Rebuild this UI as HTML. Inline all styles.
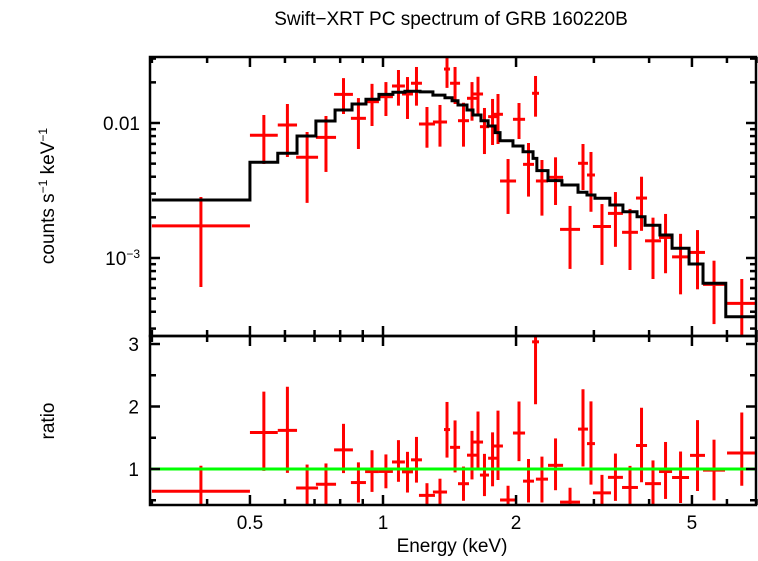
<!DOCTYPE html>
<html><head><meta charset="utf-8"><style>
html,body{margin:0;padding:0;background:#fff;}
svg text{font-family:"Liberation Sans",sans-serif;fill:#000;}
</style></head><body>
<svg id="chart" width="758" height="556" viewBox="0 0 758 556" xmlns="http://www.w3.org/2000/svg">
<text x="451" y="25" font-size="19" text-anchor="middle">Swift−XRT PC spectrum of GRB 160220B</text>
<text transform="translate(54,196) rotate(-90)" font-size="19" text-anchor="middle">counts s<tspan font-size="12" dy="-7">−1</tspan><tspan dy="7"> keV</tspan><tspan font-size="12" dy="-7">−1</tspan></text>
<text transform="translate(54,421) rotate(-90)" font-size="19" text-anchor="middle">ratio</text>
<text x="452" y="552" font-size="19" text-anchor="middle">Energy (keV)</text>
<g id="g"></g>
</svg>
<script>
// data bins (keV) and flux (counts/s/keV)
const binLo=[0.3,0.5,0.578,0.636,0.705,0.775,0.846,0.911,0.979,1.048,1.104,1.157,1.206,1.297,1.374,1.418,1.478,1.549,1.598,1.657,1.729,1.774,1.968,2.174,1.840,2.074,2.218,2.362,2.515,2.762,2.894,2.985,3.228,3.474,3.736,3.916,4.212,4.508,4.95,5.297,6.003];
const binHi=[0.5,0.578,0.639,0.713,0.783,0.855,0.915,0.979,1.053,1.121,1.169,1.225,1.311,1.396,1.418,1.494,1.565,1.632,1.684,1.737,1.811,1.868,2.096,2.254,2.0,2.196,2.362,2.555,2.791,2.909,3.017,3.28,3.49,3.774,3.957,4.255,4.508,4.925,5.352,5.94,7.0];
const flux=[0.00173,0.00811,0.00966,0.00557,0.00783,0.0163,0.01083,0.01438,0.01566,0.0188,0.0164,0.0197,0.00983,0.01017,0.0251,0.0197,0.0104,0.01524,0.0164,0.00939,0.01114,0.0116,0.01065,0.0166,0.00372,0.00494,0.00372,0.00396,0.00163,0.00503,0.00412,0.00171,0.00214,0.00155,0.00278,0.00134,0.00142,0.00102,0.0011,0.000638,0.000461];
const fluxHi=[0.00283,0.01146,0.01383,0.00858,0.01127,0.0215,0.0153,0.0195,0.0201,0.0247,0.0219,0.026,0.01314,0.0136,0.0319,0.026,0.01413,0.0201,0.022,0.01292,0.01507,0.0164,0.01406,0.0223,0.00541,0.00711,0.00532,0.00557,0.00243,0.00699,0.0061,0.00251,0.00308,0.00231,0.0040,0.00199,0.00212,0.00151,0.00161,0.000955,0.000699];
const fluxLo=[0.00061,0.00497,0.0056,0.00256,0.00434,0.01166,0.00642,0.0095,0.01127,0.01344,0.01071,0.01344,0.00656,0.00668,0.0182,0.01383,0.00668,0.0104,0.01146,0.00589,0.00687,0.00699,0.00761,0.01114,0.00212,0.00285,0.00206,0.00247,0.00083,0.00319,0.0022,0.000888,0.00121,0.000815,0.00159,0.000699,0.000771,0.000538,0.000586,0.000324,0.000269];
// model step function
const modelEdges=[0.3,0.5,0.578,0.639,0.705,0.779,0.851,0.915,0.979,1.053,1.121,1.213,1.297,1.381,1.433,1.478,1.549,1.598,1.666,1.729,1.793,1.840,1.968,2.074,2.185,2.229,2.362,2.540,2.762,2.894,3.017,3.260,3.490,3.756,3.916,4.232,4.508,4.925,5.297,5.964,7.0];
const modelVals=[0.00269,0.00512,0.00597,0.00801,0.01035,0.01248,0.01383,0.0150,0.0163,0.0169,0.01718,0.0170,0.0161,0.01539,0.01463,0.0136,0.01248,0.01146,0.0104,0.0095,0.00848,0.00739,0.00676,0.00613,0.00547,0.00444,0.00374,0.00347,0.00307,0.00293,0.00277,0.00247,0.0022,0.00202,0.00175,0.00148,0.00118,0.000903,0.00065,0.000367];
const xTicksMajor=[0.5,1,2,5];
const xTickLabels=["0.5","1","2","5"];
const ratioTicks=[1,2,3];
const ratioTickLabels=["1","2","3"];

const L=150,R=756,T1=57,B1=336,T2=336,B2=505;
const X=e=>383+442*Math.log10(e);
const Y1=f=>123-135*(Math.log10(f)+2);
const Y2=r=>469-62.5*(r-1);
const NS="http://www.w3.org/2000/svg";
const g=document.getElementById('g');
function mk(tag,at,parent){const el=document.createElementNS(NS,tag);for(const k in at)el.setAttribute(k,at[k]);(parent||g).appendChild(el);return el;}
function line(x1,y1,x2,y2,c,w,p){return mk('line',{x1,y1,x2,y2,stroke:c,'stroke-width':w},p);}
const defs=mk('defs',{});
const cp1=mk('clipPath',{id:'cp1'},defs);mk('rect',{x:L,y:T1,width:R-L,height:B1-T1},cp1);
const cp2=mk('clipPath',{id:'cp2'},defs);mk('rect',{x:L,y:T2,width:R-L,height:B2-T2},cp2);
const p1=mk('g',{'clip-path':'url(#cp1)'});
const p2=mk('g',{'clip-path':'url(#cp2)'});
function modelAt(e){for(let i=0;i<modelVals.length;i++){if(e>=modelEdges[i]&&e<modelEdges[i+1])return modelVals[i];}return modelVals[modelVals.length-1];}
for(let i=0;i<flux.length;i++){
  const ec=Math.sqrt(binLo[i]*binHi[i]);
  const gp=mk('g',{},p1);
  
  
  line(X(binLo[i]),Y1(flux[i]),X(binHi[i]),Y1(flux[i]),'#ff0000',3,gp);
  line(X(ec),Y1(fluxHi[i]),X(ec),Y1(fluxLo[i]),'#ff0000',3,gp);
  const m=modelAt(ec);
  const gr=mk('g',{},p2);
  
  
  line(X(binLo[i]),Y2(flux[i]/m),X(binHi[i]),Y2(flux[i]/m),'#ff0000',3,gr);
  line(X(ec),Y2(fluxHi[i]/m),X(ec),Y2(fluxLo[i]/m),'#ff0000',3,gr);
}
let d='';
for(let i=0;i<modelVals.length;i++){const y=Y1(modelVals[i]);d+=(i?'L':'M')+X(modelEdges[i])+','+y+'L'+X(modelEdges[i+1])+','+y;}
const mp=mk('path',{d,fill:'none',stroke:'#000','stroke-width':3},p1);


const u=mk('line',{x1:L,x2:R,y1:Y2(1),y2:Y2(1),stroke:'#00ff00','stroke-width':3},p2);


const f1=mk('rect',{x:L,y:T1,width:R-L,height:B1-T1,fill:'none',stroke:'#000','stroke-width':2.5});


const f2=mk('rect',{x:L,y:T2,width:R-L,height:B2-T2,fill:'none',stroke:'#000','stroke-width':2.5});


const minorE=[0.3,0.4,0.6,0.7,0.8,0.9,3,4,6,7];
[[T1,B1],[T2,B2]].forEach(([t,b])=>{
  xTicksMajor.forEach(e=>{line(X(e),t,X(e),t+10,'#000',2.5);line(X(e),b,X(e),b-10,'#000',2.5);});
  minorE.forEach(e=>{line(X(e),t,X(e),t+6,'#000',2.5);line(X(e),b,X(e),b-6,'#000',2.5);});
});
xTicksMajor.forEach((e,i)=>{const t=mk('text',{x:X(e),y:529,'font-size':19,'text-anchor':'middle'});t.textContent=xTickLabels[i];

});
for(let dec=-4;dec<=-1;dec++){for(let k=1;k<10;k++){const f=k*Math.pow(10,dec);const y=Y1(f);if(y<T1+1||y>B1-1)continue;const len=k==1?10:6;line(L,y,L+len,y,'#000',2.5);line(R,y,R-len,y,'#000',2.5);}}
const t1=mk('text',{x:140,y:130,'font-size':19,'text-anchor':'end'});t1.textContent='0.01';


const t2=mk('text',{x:140,y:265,'font-size':19,'text-anchor':'end'});t2.innerHTML='10<tspan font-size="12" dy="-7">−3</tspan>';


for(let r=0.5;r<=3.01;r+=0.5){const y=Y2(r);if(y<T2+1||y>B2-1)continue;const len=Number.isInteger(r)?10:6;line(L,y,L+len,y,'#000',2.5);line(R,y,R-len,y,'#000',2.5);}
ratioTicks.forEach((r,i)=>{const t=mk('text',{x:139,y:Y2(r)+7,'font-size':19,'text-anchor':'end'});t.textContent=ratioTickLabels[i];

});
</script>
</body></html>
